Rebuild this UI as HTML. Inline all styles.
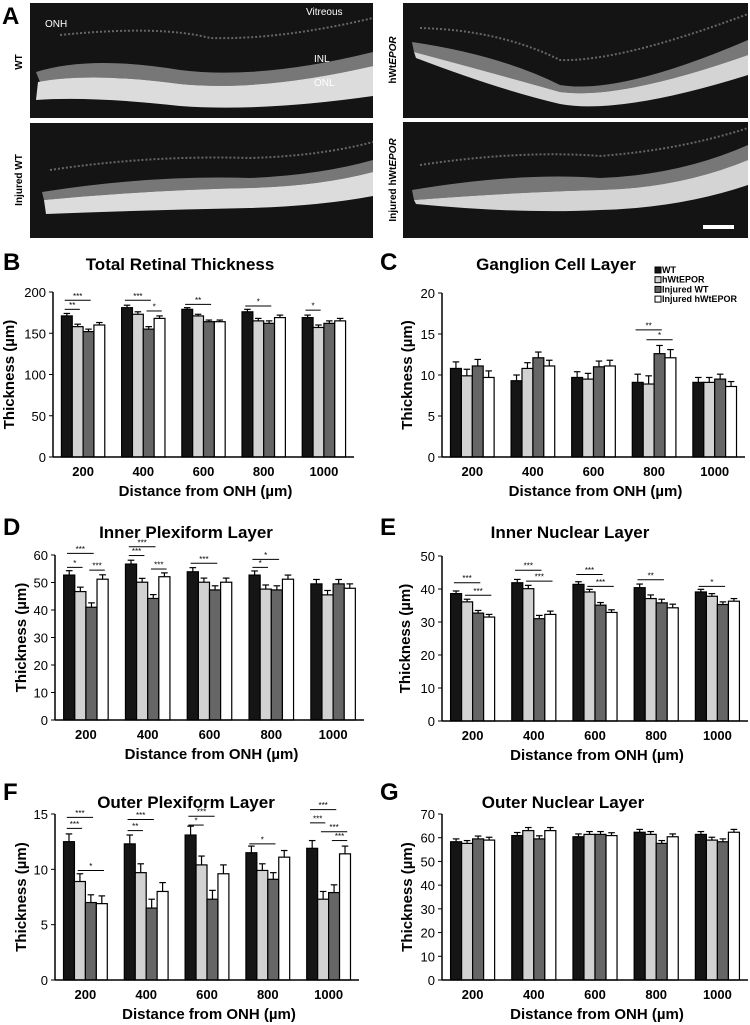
<!DOCTYPE html>
<html><head><meta charset="utf-8"><style>
html,body{margin:0;padding:0;background:#fff;}
svg{display:block;font-family:"Liberation Sans",Arial,sans-serif;}
</style></head><body>
<svg id="fig" width="750" height="1025" viewBox="0 0 750 1025" xmlns="http://www.w3.org/2000/svg">
<g>
<text x="2" y="24" font-size="24" font-weight="bold">A</text>
<g>
<rect x="30" y="3" width="343" height="115" fill="#141414"/>
<path d="M36 72 Q90 55 180 70 Q260 80 373 52 L373 66 Q260 92 180 84 Q90 72 40 82 Z" fill="#777"/>
<path d="M38 82 Q90 72 180 84 Q260 92 373 66 L373 96 Q260 112 180 106 Q90 96 36 100 Z" fill="#dcdcdc"/>
<path d="M60 35 Q160 25 210 38 Q280 40 373 18" stroke="#666" stroke-width="2" fill="none" stroke-dasharray="2 2"/>
<text x="45" y="27" font-size="10" fill="#fff">ONH</text>
<text x="306" y="15" font-size="10" fill="#fff">Vitreous</text>
<text x="314" y="62" font-size="10" fill="#fff">INL</text>
<text x="314" y="86" font-size="10" fill="#fff">ONL</text>
</g>
<g>
<rect x="30" y="123" width="343" height="115" fill="#141414"/>
<path d="M42 192 Q150 175 250 178 Q320 175 373 160 L373 172 Q320 186 250 188 Q150 190 44 200 Z" fill="#777"/>
<path d="M44 200 Q150 190 250 188 Q320 186 373 172 L373 196 Q320 206 250 208 Q150 210 46 214 Z" fill="#dcdcdc"/>
<path d="M50 170 Q150 155 250 158 Q320 156 373 142" stroke="#666" stroke-width="2" fill="none" stroke-dasharray="2 2"/>
</g>
<g>
<rect x="403" y="3" width="345" height="115" fill="#141414"/>
<path d="M412 42 Q500 55 560 85 Q620 95 748 40 L748 55 Q620 100 560 92 Q500 75 414 52 Z" fill="#777"/>
<path d="M414 52 Q500 75 560 92 Q620 100 748 55 L748 75 Q620 115 560 104 Q500 90 416 58 Z" fill="#d4d4d4"/>
<path d="M420 28 Q500 30 560 60 Q620 62 748 14" stroke="#666" stroke-width="2" fill="none" stroke-dasharray="2 2"/>
</g>
<g>
<rect x="403" y="122" width="345" height="116" fill="#141414"/>
<path d="M412 190 Q520 172 600 178 Q680 175 748 145 L748 160 Q680 188 600 190 Q520 192 414 200 Z" fill="#777"/>
<path d="M414 200 Q520 192 600 190 Q680 188 748 160 L748 185 Q680 208 600 210 Q520 214 416 204 Z" fill="#d4d4d4"/>
<path d="M420 165 Q520 150 600 156 Q680 150 748 128" stroke="#666" stroke-width="2" fill="none" stroke-dasharray="2 2"/>
<rect x="703" y="225" width="31" height="4" fill="#fff"/>
</g>
<text transform="translate(22,62) rotate(-90)" font-size="10" font-weight="bold" text-anchor="middle">WT</text>
<text transform="translate(22,180) rotate(-90)" font-size="10" font-weight="bold" text-anchor="middle">Injured WT</text>
<text transform="translate(396,60) rotate(-90)" font-size="10" font-weight="bold" text-anchor="middle">hWt<tspan font-style="italic">EPOR</tspan></text>
<text transform="translate(396,180) rotate(-90)" font-size="10" font-weight="bold" text-anchor="middle">Injured hWt<tspan font-style="italic">EPOR</tspan></text>
</g>
</svg>
<script>
const categories = ["200","400","600","800","1000"];
const seriesNames = ["WT","hWtEPOR","Injured WT","Injured hWtEPOR"];
const seriesColors = ["#151515","#d2d2d2","#666666","#ffffff"];

const bWT=[171,181,179,176,169], bHW=[158,173,171,165,157], bIW=[152,155,164,162,162], bIH=[160,168,164,169,165];
const bErr=[3,3,2,3,3];
const bTicks=[0,50,100,150,200];
const bSig=[[0,0,2,190,"***"],[0,0,1,179,"**"],[1,0,2,190,"***"],[1,2,3,177,"*"],[2,0,2,185,"**"],[3,0,2,183,"*"],[4,0,1,178,"*"]];

const cWT=[10.8,9.3,9.7,9.1,9.1], cHW=[9.9,10.8,9.5,8.9,9.1], cIW=[11.1,12.1,11.0,12.6,9.5], cIH=[9.7,11.1,11.1,12.1,8.6];
const cErr=[0.8,0.7,0.7,1.0,0.6];
const cTicks=[0,5,10,15,20];
const cSig=[[3,0,2,15.5,"**"],[3,1,3,14.3,"*"]];

const dWT=[52.7,56.7,53.9,52.7,49.5], dHW=[46.7,50.1,50.1,47.6,45.5], dIW=[41.0,44.2,47.3,47.3,49.5], dIH=[51.2,52.1,50.1,51.2,47.9];
const dErr=[1.6,1.4,1.5,1.5,1.6];
const dTicks=[0,10,20,30,40,50,60];
const dSig=[[0,0,2,60.6,"***"],[0,0,1,55.5,"*"],[0,2,3,54.5,"***"],[1,0,2,63,"***"],[1,0,1,59.8,"***"],[1,2,3,54.9,"***"],[2,0,2,57,"***"],[3,0,2,58.4,"*"],[3,0,1,55.5,"*"]];

const eWT=[38.6,41.9,41.4,40.4,39.1], eHW=[36.1,40.1,39.1,37.1,37.8], eIW=[32.7,31.0,35.1,35.8,35.3], eIH=[31.5,32.3,32.9,34.3,36.3];
const eErr=[0.8,1.0,0.8,1.1,0.8];
const eTicks=[0,10,20,30,40,50];
const eSig=[[0,0,2,41.9,"***"],[0,1,3,38.1,"***"],[1,0,2,45.7,"***"],[1,1,3,42.4,"***"],[2,0,2,44.4,"***"],[2,1,3,40.8,"***"],[3,0,2,42.8,"**"],[4,0,2,40.8,"*"]];

const fWT=[12.5,12.3,13.1,11.5,11.9], fHW=[8.9,9.7,10.4,9.9,7.3], fIW=[7.0,6.5,7.3,9.1,7.9], fIH=[6.9,8.0,9.6,11.1,11.4];
const fErr=[0.7,0.8,0.8,0.6,0.7];
const fTicks=[0,5,10,15];
const fSig=[[0,0,2,14.7,"***"],[0,0,1,13.7,"***"],[0,1,3,9.9,"*"],[1,0,2,14.5,"***"],[1,0,1,13.5,"**"],[2,0,2,14.8,"***"],[2,0,1,14.0,"*"],[3,0,2,12.3,"*"],[4,0,2,15.4,"***"],[4,0,1,14.2,"***"],[4,1,3,13.4,"***"],[4,2,3,12.6,"***"]];

const gWT=[58.3,60.9,60.4,62.3,61.4], gHW=[57.6,63.0,61.4,61.4,59.0], gIW=[59.5,59.5,61.4,57.6,58.3], gIH=[59.0,63.0,60.9,60.4,62.3];
const gErr=[1.2,1.3,1.2,1.2,1.2];
const gTicks=[0,10,20,30,40,50,60,70];
const gSig=[];

const NS="http://www.w3.org/2000/svg";
const svg=document.getElementById("fig");
function mk(tag,attrs,parent){const e=document.createElementNS(NS,tag);for(const k in attrs)e.setAttribute(k,attrs[k]);(parent||svg).appendChild(e);return e;}

function panel(p){
  const g=mk("g",{});
  
  
  const max=p.ticks[p.ticks.length-1];
  const y=v=>p.y0-(v/max)*(p.y0-p.y1);
  const band=(p.x1-p.x0)/categories.length;
  const bw=band*0.18, off=band*0.14;
  const bx=(c,s)=>p.x0+c*band+off+s*bw;
  const L=mk("text",{x:p.lx,y:p.ly,"font-size":24,"font-weight":"bold"},g);L.textContent=p.id.toUpperCase();
  
  
  const T=mk("text",{x:p.tx,y:p.ty,"font-size":17,"font-weight":"bold","text-anchor":"middle"},g);T.textContent=p.title;
  
  
  p.ticks.forEach(t=>{
    mk("line",{x1:p.x0-4,x2:p.x0,y1:y(t),y2:y(t),stroke:"#000","stroke-width":1},g);
    const tl=mk("text",{x:p.x0-7,y:y(t)+5,"font-size":13,"text-anchor":"end"},g);tl.textContent=t;
    
    
  });
  const series=p.series;
  series.forEach((vals,s)=>{
    vals.forEach((v,c)=>{
      const x=bx(c,s), cx=x+bw/2, e=p.err[c];
      mk("line",{x1:cx,x2:cx,y1:y(v),y2:y(v+e),stroke:"#000","stroke-width":1.2},g);
      mk("line",{x1:cx-bw*0.3,x2:cx+bw*0.3,y1:y(v+e),y2:y(v+e),stroke:"#000","stroke-width":1.2},g);
      const r=mk("rect",{x:x,y:y(v),width:bw,height:p.y0-y(v),fill:seriesColors[s],stroke:"#000","stroke-width":1.2},g);
      
      
    });
  });
  mk("line",{x1:p.x0,x2:p.x0,y1:p.y0,y2:p.y1,stroke:"#000","stroke-width":1.5},g);
  mk("line",{x1:p.x0,x2:p.x1,y1:p.y0,y2:p.y0,stroke:"#000","stroke-width":1.5},g);
  categories.forEach((c,i)=>{
    const t=mk("text",{x:p.x0+i*band+off+2*bw,y:p.y0+19,"font-size":13,"font-weight":"bold","text-anchor":"middle"},g);t.textContent=c;
    
    
  });
  const xt=mk("text",{x:(p.x0+p.x1)/2+2,y:p.y0+39,"font-size":15,"font-weight":"bold","text-anchor":"middle"},g);xt.textContent="Distance from ONH (µm)";
  
  
  const yt=mk("text",{transform:`translate(${p.ytx},${(p.y0+p.y1)/2}) rotate(-90)`,"font-size":15,"font-weight":"bold","text-anchor":"middle"},g);yt.textContent="Thickness (µm)";
  
  
  p.sig.forEach(sg=>{
    const [c,a,b,v,lab]=sg;
    const xa=bx(c,a)+bw*0.3, xb=bx(c,b)+bw*0.7;
    mk("line",{x1:xa,x2:xb,y1:y(v),y2:y(v),stroke:"#000","stroke-width":1},g);
    const st=mk("text",{x:(xa+xb)/2,y:y(v)-1.5,"font-size":8,"text-anchor":"middle"},g);st.textContent=lab;
    
    
  });
}
panel({id:"b",title:"Total Retinal Thickness",x0:53,x1:354,y0:457,y1:292,ticks:bTicks,series:[bWT,bHW,bIW,bIH],err:bErr,sig:bSig,lx:3,ly:270,tx:180,ty:270,ytx:14});
panel({id:"c",title:"Ganglion Cell Layer",x0:442,x1:745,y0:457,y1:293,ticks:cTicks,series:[cWT,cHW,cIW,cIH],err:cErr,sig:cSig,lx:380,ly:270,tx:556,ty:270,ytx:412});
panel({id:"d",title:"Inner Plexiform Layer",x0:55,x1:364,y0:720,y1:555,ticks:dTicks,series:[dWT,dHW,dIW,dIH],err:dErr,sig:dSig,lx:3,ly:535,tx:186,ty:538,ytx:26});
panel({id:"e",title:"Inner Nuclear Layer",x0:442,x1:748,y0:721,y1:556,ticks:eTicks,series:[eWT,eHW,eIW,eIH],err:eErr,sig:eSig,lx:380,ly:535,tx:570,ty:538,ytx:410});
panel({id:"f",title:"Outer Plexiform  Layer",x0:55,x1:359,y0:980,y1:814,ticks:fTicks,series:[fWT,fHW,fIW,fIH],err:fErr,sig:fSig,lx:3,ly:800,tx:186,ty:808,ytx:26});
panel({id:"g",title:"Outer Nuclear  Layer",x0:442,x1:748,y0:980,y1:814,ticks:gTicks,series:[gWT,gHW,gIW,gIH],err:gErr,sig:gSig,lx:380,ly:800,tx:563,ty:808,ytx:412});

const lg=mk("g",{});


seriesNames.forEach((n,i)=>{
  const yy=270+i*9.7;
  mk("rect",{x:655,y:yy-3,width:6,height:6,fill:seriesColors[i],stroke:"#000","stroke-width":1},lg);
  const t=mk("text",{x:662,y:yy+3,"font-size":9,"font-weight":"bold"},lg);t.textContent=n;
  
  
});
</script>
</body></html>
